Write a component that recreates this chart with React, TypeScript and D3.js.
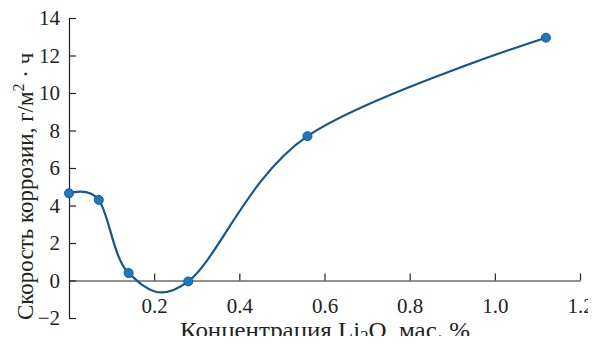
import React, { useEffect, useRef } from 'react';
import * as d3 from 'd3';

const concentration = [0, 0.07, 0.14, 0.28, 0.56, 1.12];
const corrosionRate = [4.65, 4.3, 0.4, -0.05, 7.7, 12.95];
const xTicks = [0.2, 0.4, 0.6, 0.8, 1.0, 1.2];
const yTicks = [-2, 0, 2, 4, 6, 8, 10, 12, 14];

const FONT = 'Liberation Serif, Times New Roman, serif';

function CorrosionChart() {
  const svgRef = useRef<SVGSVGElement | null>(null);

  useEffect(() => {
    if (!svgRef.current) return;
    const svg = d3.select(svgRef.current);
    svg.selectAll('*').remove();

    const x = d3.scaleLinear().domain([0, 1.2]).range([69, 580]);
    const y = d3.scaleLinear().domain([-2, 14]).range([318, 18]);

    // y axis, ticks pointing inward
    const yAxis = svg.append('g')
      .attr('transform', 'translate(69,0)')
      .call(d3.axisRight(y).tickValues(yTicks).tickSize(7).tickFormat(d => {
        const v = +d;
        return v < 0 ? '\u2212' + Math.abs(v) : String(v);
      }));
    yAxis.attr('font-family', FONT).attr('font-size', 21);
    yAxis.select('.domain').attr('stroke', '#222').attr('stroke-width', 1.2);
    yAxis.selectAll('.tick line').attr('stroke', '#222').attr('stroke-width', 1.2);
    yAxis.selectAll('.tick text')
      .attr('x', -9)
      .attr('text-anchor', 'end')
      .attr('fill', '#222');

    // x axis on the zero line, ticks pointing up
    const xAxis = svg.append('g')
      .attr('transform', `translate(0,${y(0)})`)
      .call(d3.axisTop(x).tickValues(xTicks).tickSize(7).tickSizeOuter(0).tickFormat(d3.format('.1f')));
    xAxis.attr('font-family', FONT).attr('font-size', 21);
    xAxis.select('.domain').attr('stroke', '#222').attr('stroke-width', 1.2);
    xAxis.selectAll('.tick line').attr('stroke', '#222').attr('stroke-width', 1.2);
    xAxis.selectAll('.tick text')
      .attr('y', 32)
      .attr('fill', '#222');

    const data = concentration.map((c, i) => [c, corrosionRate[i]] as [number, number]);

    const line = d3.line<[number, number]>()
      .x(d => x(d[0]))
      .y(d => y(d[1]))
      .curve(d3.curveCatmullRom.alpha(0));

    svg.append('path')
      .datum(data)
      .attr('fill', 'none')
      .attr('stroke', '#15568f')
      .attr('stroke-width', 2.2)
      .attr('d', line);

    svg.selectAll('circle.pt')
      .data(data)
      .enter()
      .append('circle')
      .attr('class', 'pt')
      .attr('cx', d => x(d[0]))
      .attr('cy', d => y(d[1]))
      .attr('r', 4.5)
      .attr('fill', '#1c78c0')
      .attr('stroke', '#14558c')
      .attr('stroke-width', 1);

    // axis titles
    const xt = svg.append('text')
      .attr('x', 180)
      .attr('y', 338)
      .attr('fill', '#222')
      .attr('font-family', FONT)
      .attr('font-size', 24)
      .attr('textLength', 290)
      .attr('lengthAdjust', 'spacingAndGlyphs');
    xt.append('tspan').text('Концентрация Li');
    xt.append('tspan').attr('dy', 4).attr('font-size', 16).text('2');
    xt.append('tspan').attr('dy', -4).text('O, мас. %');

    const yt = svg.append('text')
      .attr('transform', 'translate(33,320) rotate(-90)')
      .attr('fill', '#222')
      .attr('font-family', FONT)
      .attr('font-size', 23);
    yt.append('tspan').text('Скорость коррозии, г/м');
    yt.append('tspan').attr('dy', -9).attr('font-size', 16).text('2');
    yt.append('tspan').attr('dy', 9).text(' · ч');
  }, []);

  return <svg ref={svgRef} width={596} height={344} style={{ display: 'block' }} />;
}

export default function App() {
  return (
    <div style={{ margin: -8 }}>
      <CorrosionChart />
    </div>
  );
}
